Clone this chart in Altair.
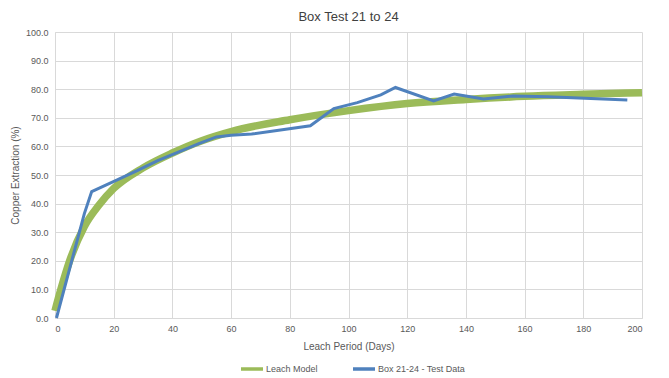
import altair as alt
import pandas as pd

# Leach model curve
model_days = [0, 2, 5, 10, 15, 20, 30, 40, 50, 60, 80, 100, 120, 140, 160, 180, 200]
model_ext = [2.5, 10, 20, 32, 39.5, 45.3, 52.5, 57.7, 62, 65.2, 69.3, 72.5, 75, 76.4, 77.5, 78.2, 78.8]

# Test data
test_days = [0.5, 10, 12.5, 21, 28, 35, 42, 49, 55, 60, 67, 87, 95, 103, 111, 116, 129, 136, 146, 156, 168, 195]
test_ext = [0.0, 36.5, 44.2, 48.2, 51.5, 55.0, 58.0, 61.0, 63.3, 63.9, 64.3, 67.2, 73.2, 75.3, 78.0, 80.6, 75.9, 78.3, 76.6, 77.6, 77.4, 76.2]

series_names = ["Leach Model", "Box 21-24 - Test Data"]
series_colors = ["#9BBB59", "#4F81BD"]

model_df = pd.DataFrame({"day": model_days, "ext": model_ext, "series": series_names[0]})
test_df = pd.DataFrame({"day": test_days, "ext": test_ext, "series": series_names[1]})

FONT = "Liberation Sans"
GRAY = "#595959"

x = alt.X("day:Q", title="Leach Period (Days)",
          scale=alt.Scale(domain=[0, 200], nice=False),
          axis=alt.Axis(values=list(range(0, 201, 20)), grid=True, ticks=False,
                        labelPadding=6, titlePadding=8))
y = alt.Y("ext:Q", title="Copper Extraction (%)",
          scale=alt.Scale(domain=[0, 100], nice=False),
          axis=alt.Axis(values=list(range(0, 101, 10)), format=".1f", grid=True, ticks=False,
                        labelPadding=7, titlePadding=5))
color = alt.Color("series:N", title=None,
                  scale=alt.Scale(domain=series_names, range=series_colors),
                  legend=alt.Legend(orient="none", legendX=184, legendY=324, direction="horizontal",
                                    symbolType="stroke", symbolSize=484, symbolStrokeWidth=3.5,
                                    columnPadding=28, labelFontSize=9, labelColor=GRAY, labelFont=FONT,
                                    labelOffset=1))

model = alt.Chart(model_df).mark_line(strokeWidth=7.5, interpolate="monotone").encode(x=x, y=y, color=color)
test = alt.Chart(test_df).mark_line(strokeWidth=3).encode(x=x, y=y, color=color)

chart = alt.layer(model, test).properties(
    width=587, height=286,
    autosize=alt.AutoSizeParams(type="none"),
    padding={"left": 47, "top": 24, "right": 19, "bottom": 58},
    title=alt.Title("Box Test 21 to 24", fontSize=13, font=FONT, color="#404040",
                    fontWeight="normal", anchor="middle", offset=4),
).configure_axis(
    gridColor="#D9D9D9", domainColor="#D9D9D9", labelColor=GRAY, titleColor=GRAY,
    labelFont=FONT, titleFont=FONT, labelFontSize=9, titleFontSize=10, titleFontWeight="normal",
).configure_view(stroke=None)

chart.save("out.html", embed_options={"renderer": "svg", "actions": False})
